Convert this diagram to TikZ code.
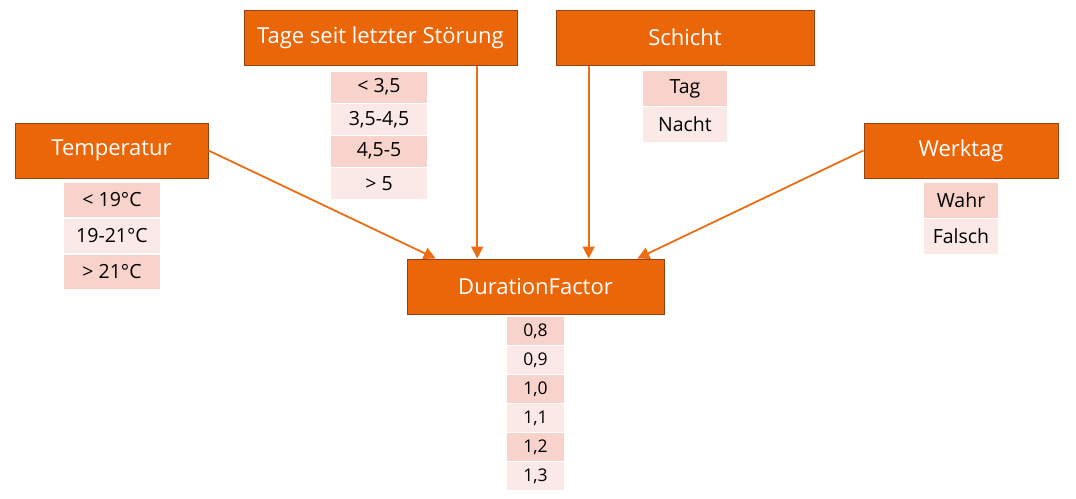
\documentclass[tikz,border=0pt]{standalone}
\usepackage{fontspec}
\setmainfont{Open Sans}
\usetikzlibrary{arrows.meta,calc}
\definecolor{boxor}{RGB}{235,102,8}
\definecolor{boxbd}{RGB}{150,66,20}
\definecolor{arror}{RGB}{236,110,20}
\definecolor{celldark}{RGB}{247,211,204}
\definecolor{celllight}{RGB}{251,233,231}
\tikzset{
  hdr/.style={draw=boxbd, line width=1pt, fill=boxor, text=white, font=\fontsize{22}{26}\selectfont, minimum height=55pt, inner sep=0pt},
  cell/.style={inner sep=0pt, font=\fontsize{19.5}{22}\selectfont, text=black},
  cd/.style={cell, fill=celldark},
  cl/.style={cell, fill=celllight},
  small/.style={font=\fontsize{17.5}{20}\selectfont},
  arr/.style={draw=arror, line width=1.8pt, -{Triangle[length=12pt,width=12pt]}},
}
\begin{document}
\begin{tikzpicture}[x=1pt,y=-1pt]
\useasboundingbox[fill=white] (0,0) rectangle (1076,498);
% header boxes
\node[hdr, minimum width=193pt] (temp) at (111.5,150.5) {Temperatur};
\node[hdr, minimum width=273pt] (tage) at (380.5,37.5) {Tage seit letzter Störung};
\node[hdr, minimum width=258pt] (schicht) at (685,37.5) {Schicht};
\node[hdr, minimum width=194pt] (werktag) at (961,150.5) {Werktag};
\node[hdr, minimum width=257pt] (df) at (535.5,286.5) {DurationFactor};
% Temperatur table
\foreach \t/\y/\s [count=\i] in {{< 19°C}/200/cd,{19-21°C}/236/cl,{> 21°C}/272/cd}
  \node[\s, minimum width=96pt, minimum height=34pt] (tp\i) at (112,\y) {\t};
% Tage table
\foreach \t/\y/\s [count=\i] in {{< 3,5}/87/cd,{3,5-4,5}/119.2/cl,{4,5-5}/151.2/cd,{> 5}/183.3/cl}
  \node[\s, minimum width=96pt, minimum height=31pt] (tg\i) at (379,\y) {\t};
% Schicht table
\foreach \t/\y/\s [count=\i] in {Tag/88.5/cd,Nacht/124.5/cl}
  \node[\s, minimum width=84pt, minimum height=35pt] (sc\i) at (685,\y) {\t};
% Werktag table
\foreach \t/\y/\s [count=\i] in {Wahr/200.5/cd,Falsch/236.5/cl}
  \node[\s, minimum width=74pt, minimum height=35pt] (wt\i) at (961,\y) {\t};
% DurationFactor table
\foreach \t/\y/\s [count=\i] in {{0,8}/331.2/cd,{0,9}/360.2/cl,{1,0}/389.2/cd,{1,1}/418.2/cl,{1,2}/447.2/cd,{1,3}/476.2/cl}
  \node[\s, small, minimum width=57pt, minimum height=28pt] (dv\i) at (535.5,\y) {\t};
% connectors
\coordinate (tgs) at ($(tage.south west)!0.853!(tage.south east)$);
\coordinate (scs) at ($(schicht.south west)!0.128!(schicht.south east)$);
\coordinate (dfl) at ($(df.north west)!0.113!(df.north east)$);
\coordinate (dfr) at ($(df.north west)!0.895!(df.north east)$);
\draw[arr] (temp.east) -- (dfl);
\draw[arr] (tgs) -- (tgs |- df.north);
\draw[arr] (scs) -- (scs |- df.north);
\draw[arr] (werktag.west) -- (dfr);
\end{tikzpicture}
\end{document}
